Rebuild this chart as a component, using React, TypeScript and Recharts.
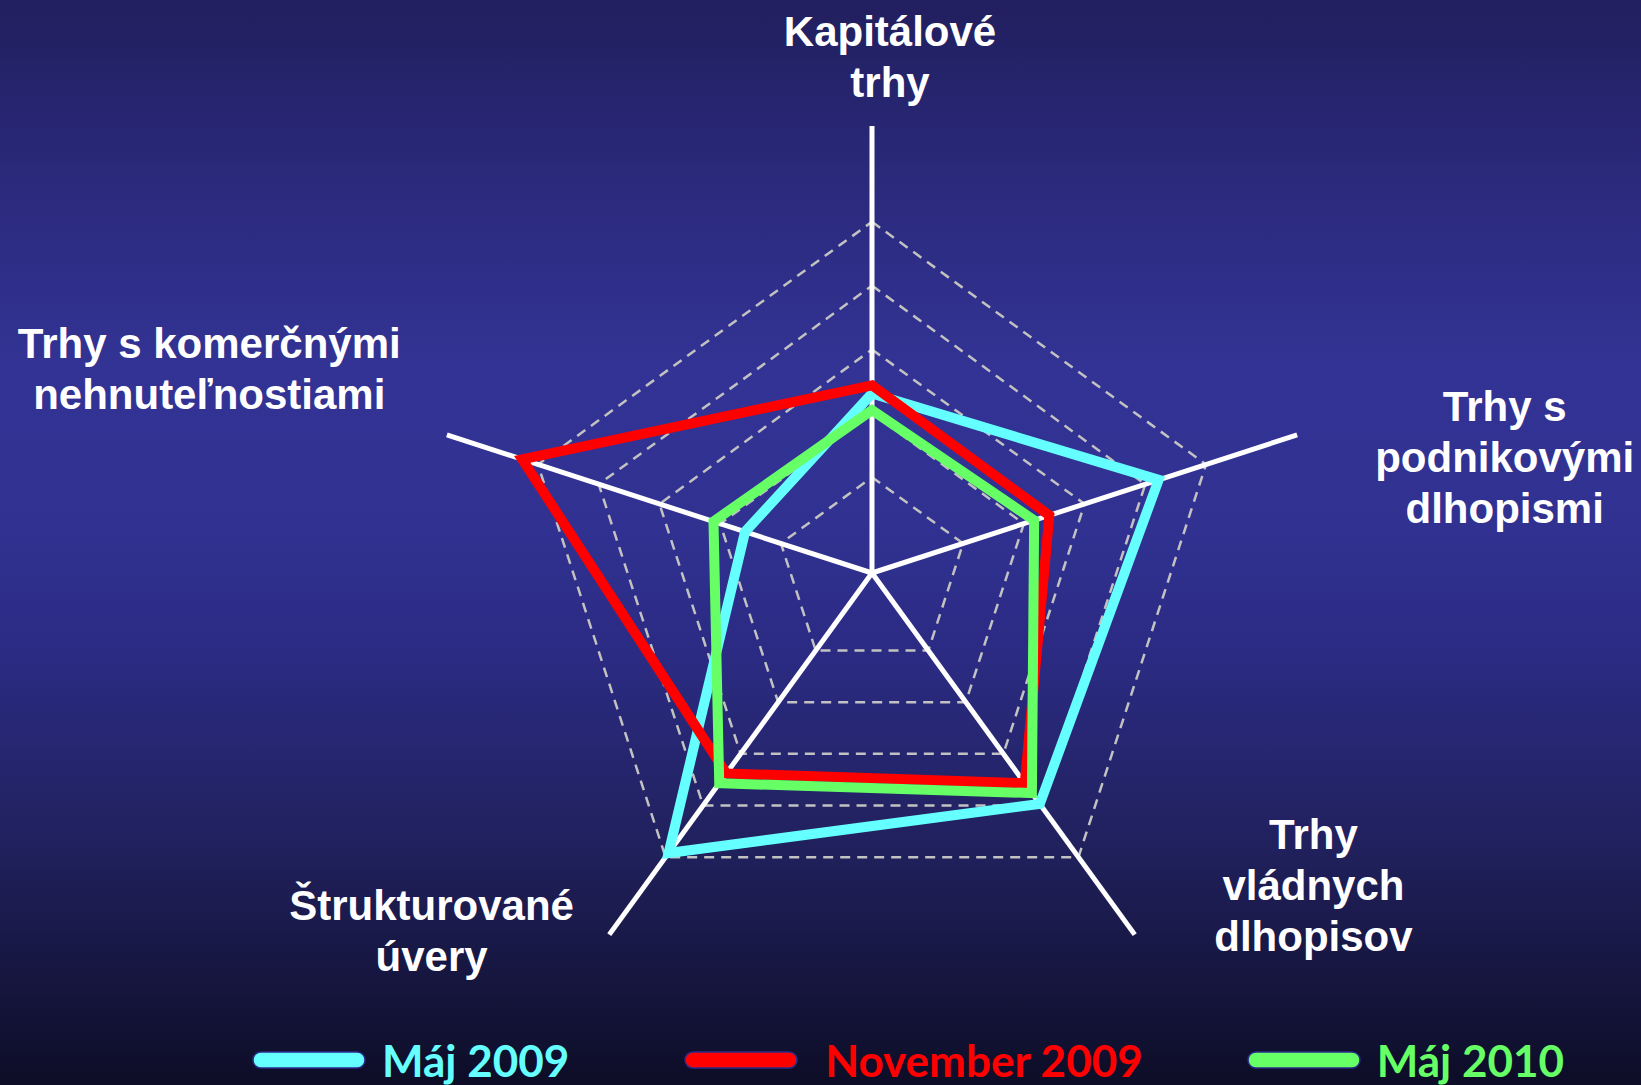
import React from 'react'
import {
  RadarChart,
  Radar,
  PolarGrid,
  PolarAngleAxis,
  PolarRadiusAxis,
  Legend,
} from 'recharts'

// axes, clockwise from the top
const categories = [
  'Kapitálové trhy',
  'Trhy s podnikovými dlhopismi',
  'Trhy vládnych dlhopisov',
  'Štrukturované úvery',
  'Trhy s komerčnými nehnuteľnosťami',
]

// how the slide breaks each label
const categoryLines = [
  ['Kapitálové', 'trhy'],
  ['Trhy s', 'podnikovými', 'dlhopismi'],
  ['Trhy', 'vládnych', 'dlhopisov'],
  ['Štrukturované', 'úvery'],
  ['Trhy s komerčnými', 'nehnuteľnostiami'],
]

const seriesNames = ['Máj 2009', 'November 2009', 'Máj 2010']
const maj2009 = [2.81, 4.72, 4.47, 5.42, 2.09]
const nov2009 = [2.94, 2.92, 4.07, 3.88, 5.76]
const maj2010 = [2.55, 2.67, 4.26, 4.07, 2.61]

const gridTicks = [1.5, 2.5, 3.5, 4.5, 5.5]
const radiusMax = 7

const data = categories.map((c, i) => ({
  axis: c,
  maj2009: maj2009[i],
  nov2009: nov2009[i],
  maj2010: maj2010[i],
}))

// label placement relative to the axis tip
const labelOffsets = [
  { dx: 18, dy: -72 },
  { dx: 200, dy: -11 },
  { dx: 174, dy: -92 },
  { dx: -173, dy: -21 },
  { dx: -230, dy: -74 },
]

function AxisLabel(props: any) {
  const { x, y } = props
  const idx = props.index ?? props.payload?.index ?? 0
  const off = labelOffsets[idx]
  const lines = categoryLines[idx]
  const lx = x + off.dx
  return (
    <text
      x={lx}
      y={y + off.dy}
      textAnchor="middle"
      fill="#ffffff"
      fontFamily="'Liberation Sans', Arial, sans-serif"
      fontWeight="bold"
      fontSize={42}
    >
      {lines.map((l, i) => (
        <tspan key={i} x={lx} dy={i === 0 ? 0 : 51}>
          {l}
        </tspan>
      ))}
    </text>
  )
}

function LegendContent(props: any) {
  const payload = props.payload ?? []
  // keep series order, the legend sorts by name otherwise
  const items = seriesNames
    .map((n) => payload.find((p: any) => p.value === n))
    .filter(Boolean)
  return (
    <div style={{ display: 'flex', alignItems: 'center', whiteSpace: 'nowrap' }}>
      {items.map((it: any, i: number) => (
        <div
          key={i}
          style={{
            display: 'flex',
            alignItems: 'center',
            marginRight: i === 0 ? 115 : 104,
          }}
        >
          <svg width={114} height={20} style={{ display: 'block' }}>
            <rect
              x={1}
              y={2}
              width={112}
              height={16}
              rx={8}
              fill={it.color}
              stroke="#2b2b8c"
              strokeWidth={1.5}
            />
          </svg>
          <span
            style={{
              marginLeft: i === 1 ? 27 : 16,
              color: it.color,
              fontFamily: 'Lato, sans-serif',
              fontWeight: 700,
              fontSize: 44,
              lineHeight: '52px',
            }}
          >
            {it.value}
          </span>
        </div>
      ))}
    </div>
  )
}

export default function App() {
  return (
    <div
      style={{
        position: 'absolute',
        left: 0,
        top: 0,
        width: 1641,
        height: 1085,
        background:
          'linear-gradient(to bottom, #211f5e 0%, #2b2a7e 18%, #333395 34%, #313192 48%, #2b2b84 60%, #222262 76%, #161640 90%, #0d0d27 100%)',
      }}
    >
      <RadarChart
        width={1641}
        height={1085}
        data={data}
        cx={872}
        cy={573}
        outerRadius={447}
        margin={{ top: 0, right: 0, bottom: 0, left: 0 }}
      >
        <PolarGrid
          gridType="polygon"
          radialLines={false}
          stroke="#c2c2c2"
          strokeWidth={2.5}
          strokeDasharray="10 7"
        />
        <PolarRadiusAxis
          domain={[0, radiusMax]}
          ticks={gridTicks}
          tick={false}
          axisLine={false}
          tickLine={false}
        />
        <PolarAngleAxis
          dataKey="axis"
          axisLine={false}
          tickLine={false}
          tick={<AxisLabel />}
        />
        <Radar
          name={seriesNames[0]}
          dataKey="maj2009"
          stroke="#66ffff"
          strokeWidth={10}
          fill="none"
          fillOpacity={0}
          dot={false}
          isAnimationActive={false}
        />
        <Radar
          name={seriesNames[1]}
          dataKey="nov2009"
          stroke="#ff0000"
          strokeWidth={10}
          fill="none"
          fillOpacity={0}
          dot={false}
          isAnimationActive={false}
        />
        <Radar
          name={seriesNames[2]}
          dataKey="maj2010"
          stroke="#66ff66"
          strokeWidth={10}
          fill="none"
          fillOpacity={0}
          dot={false}
          isAnimationActive={false}
        />
        <PolarGrid
          gridType="polygon"
          radialLines
          polarRadius={[]}
          stroke="#ffffff"
          strokeWidth={5}
        />
        <Legend
          verticalAlign="bottom"
          content={<LegendContent />}
          wrapperStyle={{ left: 252, top: 1034, width: 1380, bottom: 'auto' }}
        />
      </RadarChart>
    </div>
  )
}
